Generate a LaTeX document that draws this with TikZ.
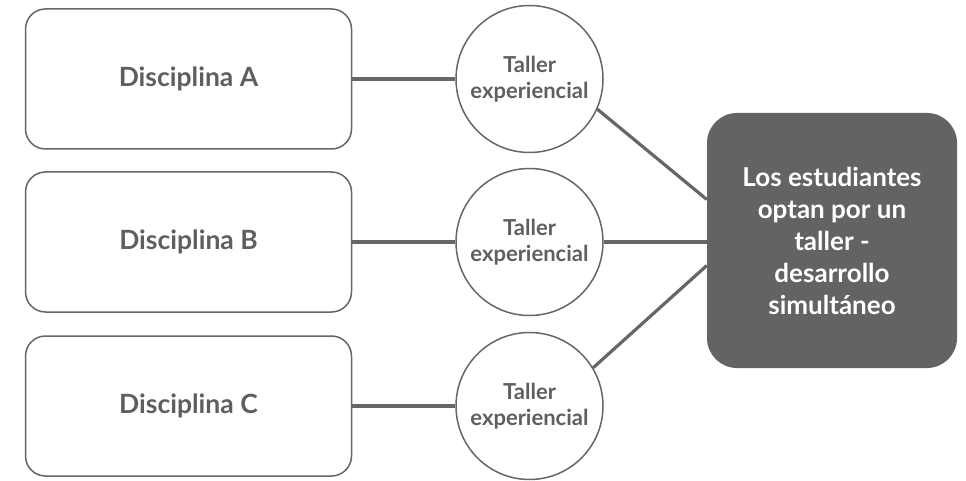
\documentclass[tikz,border=0pt]{standalone}
\usepackage{fontspec}
\setmainfont{Lato}
\usetikzlibrary{calc}
\definecolor{linegray}{HTML}{666666}
\definecolor{textgray}{HTML}{5F5F61}
\definecolor{darkbox}{HTML}{636365}
\tikzset{
  disc/.style={draw=linegray, line width=1.5pt, rounded corners=20pt, minimum width=326pt, minimum height=140pt, text=textgray, font=\fontsize{26.5}{30}\selectfont\bfseries},
  taller/.style={draw=linegray, line width=1.5pt, circle, minimum size=147pt, inner sep=0pt, align=center, text=textgray, font=\fontsize{22}{25.5}\selectfont\bfseries},
  result/.style={fill=darkbox, rounded corners=30pt, minimum width=250pt, minimum height=255pt, align=center, text=white, font=\fontsize{26}{32}\selectfont\bfseries},
  link/.style={draw=linegray, line width=3.2pt}
}
\begin{document}
\begin{tikzpicture}[x=1pt,y=1pt]
\useasboundingbox (0,0) rectangle (966,480);
\def\XD{188.5};\def\XT{529.5};
\node[disc] (da) at (\XD,401) {Disciplina A};
\node[disc] (db) at (\XD,238) {Disciplina B};
\node[disc] (dc) at (\XD,74) {Disciplina C};
\node[taller] (ta) at (\XT,401) {Taller\\experiencial};
\node[taller] (tb) at (\XT,238) {Taller\\experiencial};
\node[taller] (tc) at (\XT,74) {Taller\\experiencial};
\node[result] (res) at (832,239.5) {Los estudiantes\\optan por un\\taller -\\desarrollo\\simultáneo};
\draw[link] (da.east) -- (ta.west);
\draw[link] (db.east) -- (tb.west);
\draw[link] (dc.east) -- (tc.west);
\draw[link] (ta.-24) -- ($(res.west)+(0,41)$);
\draw[link] (tb.east) -- (res.west |- tb.east);
\draw[link] (tc.31) -- ($(res.west)+(0,-25)$);
\end{tikzpicture}
\end{document}
